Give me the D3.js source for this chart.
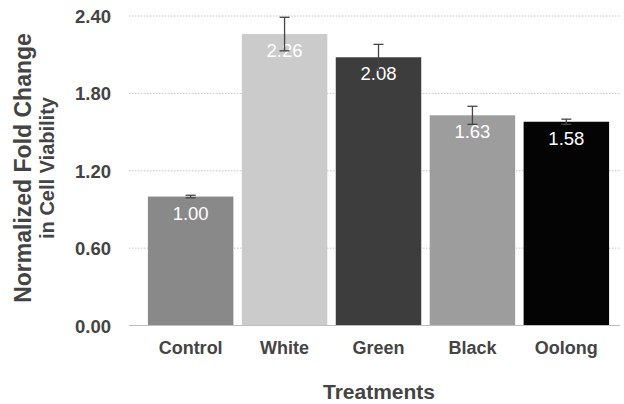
<!DOCTYPE html>
<html>
<head>
<meta charset="utf-8">
<script src="https://cdn.jsdelivr.net/npm/d3@7"></script>
<style>
  body { margin: 0; background: #fff; }
  text { font-family: "Liberation Sans", Arial, sans-serif; }
</style>
</head>
<body>
<svg id="chart" width="624" height="404"></svg>
<script>
var categories = ['Control', 'White', 'Green', 'Black', 'Oolong'];
var values = [1.00, 2.26, 2.08, 1.63, 1.58];
var errors = [0.01, 0.13, 0.10, 0.07, 0.02];
var colors = ['#898989', '#cbcbcb', '#3c3d3c', '#9d9d9d', '#040404'];
var yTicks = [0, 0.6, 1.2, 1.8, 2.4];

var svg = d3.select('#chart'),
    plotLeft = 131, plotRight = 626, plotTop = 16, plotBottom = 325.5;

var x = d3.scaleBand()
    .domain(categories)
    .range([plotLeft, plotRight])
    .paddingInner(0.09)
    .paddingOuter(0.18);

var y = d3.scaleLinear()
    .domain([0, 2.4])
    .range([plotBottom, plotTop]);

// dotted grid
svg.append('g')
    .selectAll('line')
    .data(yTicks.filter(function (d) { return d > 0; }))
    .enter().append('line')
    .attr('x1', plotLeft - 2).attr('x2', 620)
    .attr('y1', function (d) { return y(d); })
    .attr('y2', function (d) { return y(d); })
    .style('stroke', '#b5b5b5')
    .style('stroke-width', 0.8)
    .style('stroke-dasharray', '1.5,1.5');

// y tick labels
svg.append('g')
    .selectAll('text')
    .data(yTicks)
    .enter().append('text')
    .attr('x', 111)
    .attr('y', function (d) { return y(d) + 7; })
    .attr('text-anchor', 'end')
    .style('font-size', '18.5px')
    .style('font-weight', 'bold')
    .style('fill', '#444')
    .text(function (d) { return d.toFixed(2); });

// bars
svg.append('g')
    .selectAll('rect')
    .data(values)
    .enter().append('rect')
    .attr('x', function (d, i) { return x(categories[i]); })
    .attr('width', x.bandwidth())
    .attr('y', function (d) { return y(d); })
    .attr('height', function (d) { return y(0) - y(d); })
    .style('fill', function (d, i) { return colors[i]; });

// axis line
svg.append('line')
    .attr('x1', plotLeft - 2).attr('x2', 620)
    .attr('y1', y(0)).attr('y2', y(0))
    .style('stroke', '#bdbdbd')
    .style('stroke-width', 1);

// value labels
svg.append('g')
    .selectAll('text')
    .data(values)
    .enter().append('text')
    .attr('x', function (d, i) { return x(categories[i]) + x.bandwidth() / 2; })
    .attr('y', function (d) { return y(d) + 23; })
    .attr('text-anchor', 'middle')
    .style('font-size', '18.5px')
    .style('fill', '#fff')
    .text(function (d) { return d.toFixed(2); });

// error bars
var eb = svg.append('g')
    .selectAll('g')
    .data(values)
    .enter().append('g')
    .style('stroke', '#444')
    .style('stroke-width', 1.3);
eb.append('line')
    .attr('x1', function (d, i) { return x(categories[i]) + x.bandwidth() / 2; })
    .attr('x2', function (d, i) { return x(categories[i]) + x.bandwidth() / 2; })
    .attr('y1', function (d, i) { return y(d - errors[i]); })
    .attr('y2', function (d, i) { return y(d + errors[i]); });
[1, -1].forEach(function (s) {
    eb.append('line')
        .attr('x1', function (d, i) { return x(categories[i]) + x.bandwidth() / 2 - 5; })
        .attr('x2', function (d, i) { return x(categories[i]) + x.bandwidth() / 2 + 5; })
        .attr('y1', function (d, i) { return y(d + s * errors[i]); })
        .attr('y2', function (d, i) { return y(d + s * errors[i]); });
});

// x labels
svg.append('g')
    .selectAll('text')
    .data(categories)
    .enter().append('text')
    .attr('x', function (d) { return x(d) + x.bandwidth() / 2; })
    .attr('y', 354)
    .attr('text-anchor', 'middle')
    .style('font-size', '18px')
    .style('font-weight', 'bold')
    .style('fill', '#444')
    .text(function (d) { return d; });

svg.append('text')
    .attr('x', 379).attr('y', 399)
    .attr('text-anchor', 'middle')
    .style('font-size', '21px')
    .style('font-weight', 'bold')
    .style('fill', '#444')
    .text('Treatments');

var yt = svg.append('text')
    .attr('transform', 'translate(31,168) rotate(-90)')
    .attr('text-anchor', 'middle')
    .style('font-weight', 'bold')
    .style('fill', '#444');
yt.append('tspan').attr('x', 0).attr('dy', 0).style('font-size', '23px').text('Normalized Fold Change');
yt.append('tspan').attr('x', 0).attr('dy', 23).style('font-size', '20px').text('in Cell Viability');
</script>
</body>
</html>
